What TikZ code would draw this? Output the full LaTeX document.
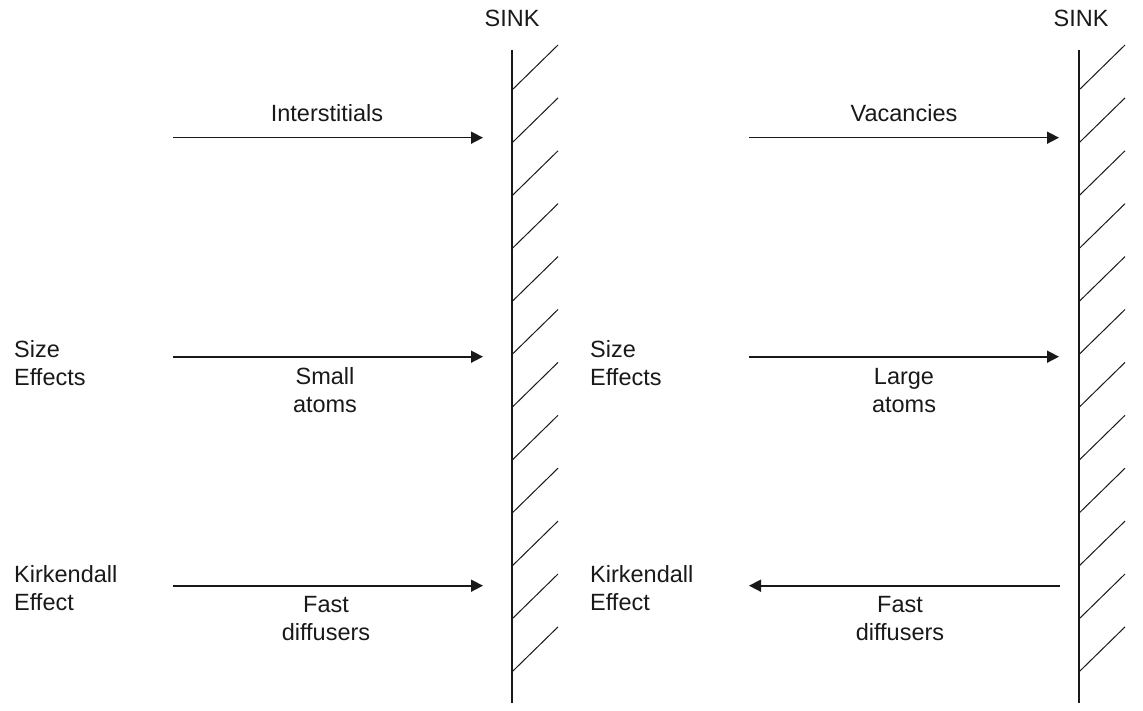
\documentclass[tikz,border=0pt]{standalone}
\usepackage{fontspec}
\setmainfont{Liberation Sans}
\usetikzlibrary{arrows.meta}
\tikzset{
  lbl/.style={font=\fontsize{23.5}{28}\selectfont, inner sep=0pt, text=black!90, align=center},
  flow/.style={line width=1.6pt, draw=black!90, -{Triangle[length=12pt,width=12pt]}},
  wallline/.style={line width=2.8pt, draw=black!90},
  hatchline/.style={line width=1pt, draw=black!90},
}
\begin{document}
\begin{tikzpicture}[x=1pt,y=-1pt]
\useasboundingbox (0,0) rectangle (1143,711);
% walls
\coordinate (wLt) at (512,50);  \coordinate (wLb) at (512,703);
\coordinate (wRt) at (1079,50); \coordinate (wRb) at (1079,703);
\draw[wallline] (wLt) -- (wLb);
\draw[wallline] (wRt) -- (wRb);
\foreach \k in {0,...,11}{
  \draw[hatchline] (512,90+52.9*\k) -- ++(46,-45);
  \draw[hatchline] (1079,90+52.9*\k) -- ++(46,-45);
}
\node[lbl, anchor=base] (sinkL) at (512,27) {SINK};
\node[lbl, anchor=base] (sinkR) at (1081,27) {SINK};
% arrow end points
\coordinate (a1s) at (173,137.7); \coordinate (a1e) at (483,137.7);
\coordinate (a2s) at (173,356.7); \coordinate (a2e) at (483,356.7);
\coordinate (a3s) at (173,585.7); \coordinate (a3e) at (483,585.7);
\coordinate (b1s) at (749,137.7); \coordinate (b1e) at (1059,137.7);
\coordinate (b2s) at (749,356.7); \coordinate (b2e) at (1059,356.7);
\coordinate (b3s) at (1060,585.7); \coordinate (b3e) at (749,585.7);
\draw[flow] (a1s) -- (a1e);
\draw[flow] (a2s) -- (a2e);
\draw[flow] (a3s) -- (a3e);
\draw[flow] (b1s) -- (b1e);
\draw[flow] (b2s) -- (b2e);
\draw[flow] (b3s) -- (b3e);
% labels (base anchor = baseline of the last line)
\node[lbl, anchor=base] (inter) at (327,122) {Interstitials};
\node[lbl, anchor=base] (vac) at (904,122) {Vacancies};
\node[lbl, anchor=base west, align=left] (sizeL) at (14,385) {Size\\Effects};
\node[lbl, anchor=base west, align=left] (sizeR) at (590,385) {Size\\Effects};
\node[lbl, anchor=base west, align=left] (kirkL) at (14,610) {Kirkendall\\Effect};
\node[lbl, anchor=base west, align=left] (kirkR) at (590,610) {Kirkendall\\Effect};
\node[lbl, anchor=base] (small) at (325,412) {Small\\atoms};
\node[lbl, anchor=base] (large) at (904,412) {Large\\atoms};
\node[lbl, anchor=base] (fastL) at (326,640) {Fast\\diffusers};
\node[lbl, anchor=base] (fastR) at (900,640) {Fast\\diffusers};
\end{tikzpicture}
\end{document}
